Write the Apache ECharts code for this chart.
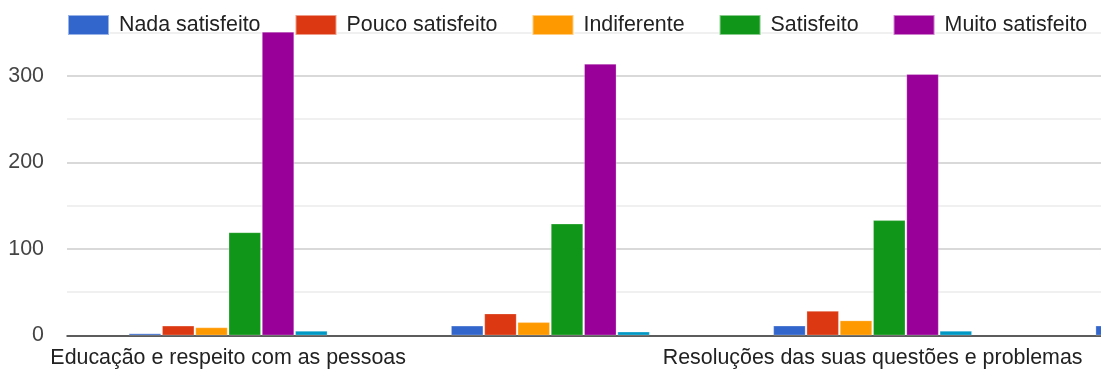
<!DOCTYPE html>
<html>
<head>
<meta charset="utf-8">
<script src="https://cdn.jsdelivr.net/npm/echarts@6/dist/echarts.min.js"></script>
<style>html,body{margin:0;padding:0;background:#fff;}#c{width:1101px;height:372px;}</style>
</head>
<body>
<div id="c"></div>
<script>
const categories = ['Educação e respeito com as pessoas', '', 'Resoluções das suas questões e problemas', ''];
const seriesNames = ['Nada satisfeito', 'Pouco satisfeito', 'Indiferente', 'Satisfeito', 'Muito satisfeito', 'Série 6'];
const nadaSatisfeito = [2, 11, 11, 11];
const poucoSatisfeito = [11, 25, 28, null];
const indiferente = [9, 15, 17, null];
const satisfeito = [119, 129, 133, null];
const muitoSatisfeito = [351, 314, 302, null];
const serie6 = [5, 4, 5, null];
const yTicks = [0, 100, 200, 300];
const colors = ['#3366cc', '#dc3912', '#ff9900', '#109618', '#990099', '#0099c6'];

const allData = [nadaSatisfeito, poucoSatisfeito, indiferente, satisfeito, muitoSatisfeito, serie6];
const font = '"Liberation Sans", Arial, sans-serif';

const chart = echarts.init(document.getElementById('c'), null, {renderer: 'canvas'});
chart.setOption({
  animation: false,
  backgroundColor: '#ffffff',
  color: colors,
  legend: {
    data: seriesNames.slice(0, 5),
    left: 62,
    top: 9,
    itemWidth: 41,
    itemHeight: 20,
    itemGap: 34,
    icon: 'rect',
    textStyle: {fontFamily: font, fontSize: 21.4, color: '#222', padding: [0, 0, 0, 5]}
  },
  grid: {left: 67, top: -10.4, width: 1289, bottom: 36.7, containLabel: false, outerBoundsMode: 'none'},
  xAxis: {
    type: 'category',
    data: categories,
    axisTick: {show: false},
    axisLine: {lineStyle: {color: '#333', width: 1.5}},
    axisLabel: {interval: 1, margin: 12, fontFamily: font, fontSize: 21.4, color: '#222'}
  },
  yAxis: {
    type: 'value',
    min: 0,
    max: 400,
    interval: 100,
    axisLine: {show: false},
    axisTick: {show: false},
    axisLabel: {margin: 23, fontFamily: font, fontSize: 21.4, color: '#444',
      formatter: v => yTicks.includes(v) ? String(v) : ''},
    splitLine: {lineStyle: {color: '#cccccc', width: 1.5}},
    minorTick: {show: false, splitNumber: 2},
    minorSplitLine: {show: true, lineStyle: {color: '#ebebeb', width: 1.5}}
  },
  series: allData.map((d, i) => ({
    name: seriesNames[i],
    type: 'bar',
    data: d,
    barWidth: 32,
    barGap: '4%',
    itemStyle: {color: colors[i], borderColor: 'rgba(255,255,255,0.5)', borderWidth: 0.5}
  }))
});
</script>
</body>
</html>
